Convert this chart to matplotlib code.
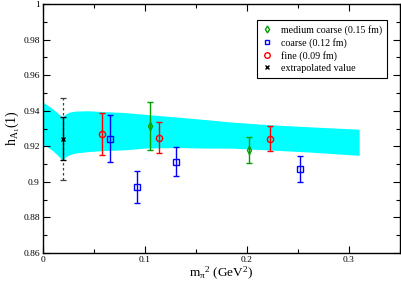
import matplotlib
matplotlib.use("Agg")
import matplotlib.pyplot as plt
from matplotlib.lines import Line2D
from matplotlib.ticker import MultipleLocator, FormatStrFormatter

plt.rcParams["font.family"] = ["Liberation Serif", "DejaVu Serif"]
plt.rcParams["mathtext.fontset"] = "custom"
plt.rcParams["mathtext.rm"] = "Liberation Serif"
plt.rcParams["mathtext.it"] = "Liberation Serif"

# ---- data ----
# error band from the chiral fit
band_x = [0.0, 0.005, 0.010, 0.015, 0.0196, 0.022, 0.026, 0.032, 0.044, 0.06,
          0.08, 0.10, 0.13, 0.16, 0.1836, 0.22, 0.26, 0.31]
band_hi = [0.945, 0.943, 0.941, 0.9385, 0.9365, 0.938, 0.9392, 0.9398, 0.940, 0.9395,
           0.939, 0.938, 0.9365, 0.935, 0.9337, 0.9322, 0.931, 0.9296]
band_lo = [0.921, 0.9195, 0.9175, 0.9148, 0.912, 0.9138, 0.9152, 0.9162, 0.917, 0.9176,
           0.918, 0.919, 0.9193, 0.919, 0.919, 0.918, 0.9168, 0.9149]

# medium coarse (0.15 fm)
mc_x = [0.1049, 0.2026]
mc_y = [0.9314, 0.9179]
mc_err = [0.0135, 0.0072]

# coarse (0.12 fm)
co_x = [0.066, 0.0921, 0.1304, 0.2523]
co_y = [0.9243, 0.8971, 0.9114, 0.9074]
co_err = [0.0133, 0.0091, 0.0083, 0.0074]

# fine (0.09 fm)
fi_x = [0.0578, 0.1143, 0.2225]
fi_y = [0.9268, 0.9249, 0.9243]
fi_err = [0.0117, 0.0086, 0.0072]

# extrapolated value
ex_x = [0.0196]
ex_y = [0.9243]
ex_stat = [0.0119]
ex_tot = [0.023]

GREEN = "#00a000"
BLUE = "#0000ff"
RED = "#ff0000"

fig = plt.figure(figsize=(4.02, 2.88), dpi=100)
ax = fig.add_axes([0.106, 0.1215, 0.889, 0.8645])

ax.fill_between(band_x, band_lo, band_hi, color="#00ffff", lw=0, zorder=1)

eb = ax.errorbar(ex_x, ex_y, yerr=ex_tot, fmt="none", ecolor="#404040", elinewidth=0.9,
                 capsize=2.5, capthick=0.9, zorder=2)
eb[2][0].set_linestyle((0, (2, 2)))
ax.errorbar(ex_x, ex_y, yerr=ex_stat, fmt="x", color="black", ms=3, mew=1,
            elinewidth=1, capsize=2.5, capthick=1, zorder=3)

ax.errorbar(mc_x, mc_y, yerr=mc_err, fmt="d", mfc="none", mec=GREEN, ecolor=GREEN,
            ms=4, mew=1, elinewidth=1, capsize=2.5, capthick=1, zorder=3)
ax.errorbar(co_x, co_y, yerr=co_err, fmt="s", mfc="none", mec=BLUE, ecolor=BLUE,
            ms=4, mew=1, elinewidth=1, capsize=2.5, capthick=1, zorder=3)
ax.errorbar(fi_x, fi_y, yerr=fi_err, fmt="o", mfc="none", mec=RED, ecolor=RED,
            ms=4.5, mew=1, elinewidth=1, capsize=2.5, capthick=1, zorder=3)

ax.set_xlim(0, 0.35)
ax.set_ylim(0.86, 1.0)
ax.xaxis.set_major_locator(MultipleLocator(0.1))
ax.xaxis.set_minor_locator(MultipleLocator(0.05))
ax.yaxis.set_major_locator(MultipleLocator(0.02))
ax.yaxis.set_minor_locator(MultipleLocator(0.01))
ax.xaxis.set_major_formatter(FormatStrFormatter("%g"))
ax.yaxis.set_major_formatter(FormatStrFormatter("%g"))
ax.tick_params(which="both", direction="in", top=True, right=True, labelsize=6.8,
               width=0.8, pad=2)
ax.tick_params(which="major", length=5)
ax.tick_params(which="minor", length=3)
for s in ax.spines.values():
    s.set_linewidth(1)

ax.set_xlabel(r"m$_{\pi}$$^{2}$ (GeV$^{2}$)", fontsize=9.5, labelpad=1)
ax.set_ylabel(r"h$_{A_1}$(1)", fontsize=10, labelpad=1)

handles = [
    Line2D([], [], ls="none", marker="d", mfc="none", mec=GREEN, ms=3.5, mew=1),
    Line2D([], [], ls="none", marker="s", mfc="none", mec=BLUE, ms=3.5, mew=1),
    Line2D([], [], ls="none", marker="o", mfc="none", mec=RED, ms=4, mew=1),
    Line2D([], [], ls="none", marker="x", color="black", ms=3, mew=1),
]
labels = ["medium coarse (0.15 fm)", "coarse (0.12 fm)", "fine (0.09 fm)",
          "extrapolated value"]
leg = ax.legend(handles, labels, loc="upper left", bbox_to_anchor=(0.60, 0.936),
                borderaxespad=0, fontsize=7.2, frameon=True, fancybox=False,
                edgecolor="black", framealpha=1, handlelength=1.0,
                handletextpad=0.9, labelspacing=0.3, borderpad=0.5)
leg.get_frame().set_linewidth(0.8)

fig.savefig("out.png", dpi=100)
